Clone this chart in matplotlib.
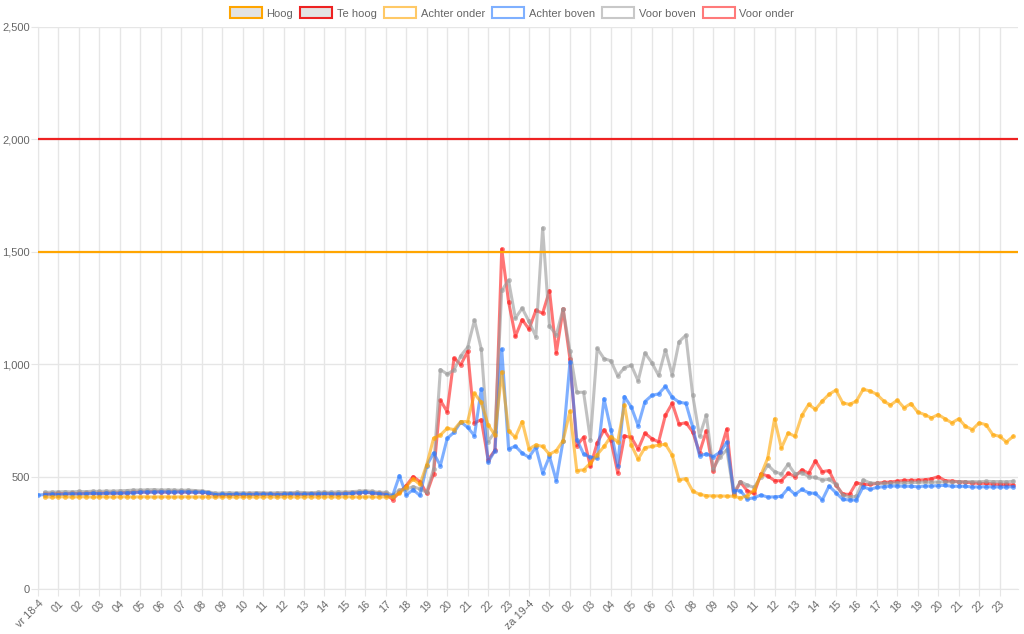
import numpy as np
import pandas as pd
import matplotlib
matplotlib.use('Agg')
import matplotlib.pyplot as plt
import matplotlib.dates as mdates
from matplotlib.patches import Patch
from matplotlib.ticker import FuncFormatter, MultipleLocator

plt.rcParams['font.family'] = ['Liberation Sans', 'DejaVu Sans']

# meetmomenten, elke 20 minuten
times = pd.date_range('2025-04-18 00:00', periods=144, freq='20min')

# grenswaarden
hoog = 1500
te_hoog = 2000

achter_boven = [
    418, 420, 421, 420, 422, 423, 422, 424, 425, 424, 425, 426, 425, 427, 428,
    430, 431, 430, 432, 431, 430, 432, 431, 430, 431, 429,
    420, 421, 420, 422, 421, 420, 422, 421, 422, 420, 421, 423, 422, 421, 423,
    422, 424, 423, 422, 424, 425, 428, 430, 427, 424,
    420, 415, 504, 418, 442, 416, 549, 605, 549, 670,
    697, 743, 719, 682, 890, 564, 616, 1067, 623, 635,
    604, 586, 631, 515, 590, 482, 660, 1010, 665, 601,
    586, 582, 846, 709, 549, 856, 809, 727, 834, 861,
    868, 901, 853, 831, 826, 720, 593, 601, 589, 608,
    653, 438, 437, 400, 406, 418, 409, 410, 412, 448,
    421, 443, 428, 425, 396, 458, 428, 399, 396, 396,
    455, 443, 452, 455, 458, 458, 457, 457, 455, 458,
    458, 460, 461, 457, 457, 457, 454, 454, 455, 454,
    454, 454, 455,
]

voor_onder = [
    None,
    424, 423, 425, 424, 426, 425, 426, 427, 426, 428, 427, 428, 429, 430,
    432, 431, 433, 432, 431, 433, 432, 431, 432, 430, 428,
    418, 419, 420, 421, 420, 422, 421, 423, 422, 421, 422, 424, 423, 422, 424,
    423, 425, 424, 423, 426, 427, 429, 431, 428, 425,
    422, 398, 430, 460, 500, 478, 425, 512, 839, 789,
    1027, 998, 1057, 739, 753, 575, 617, 1512, 1278, 1124,
    1198, 1156, 1239, 1227, 1327, 1050, 1245, 1024, 638, 675,
    545, 650, 708, 662, 518, 681, 674, 622, 693, 669,
    654, 773, 826, 733, 740, 699, 607, 703, 525, 610,
    711, 421, 475, 437, 425, 512, 503, 482, 482, 515,
    500, 530, 515, 570, 522, 527, 463, 422, 421, 473,
    465, 465, 470, 474, 476, 480, 483, 483, 484, 486,
    490, 500, 482, 480, 477, 475, 472, 470, 470, 467,
    465, 465, 463,
]

voor_boven = [
    None,
    430, 431, 432, 433, 432, 434, 433, 435, 434, 436, 435, 437, 438, 440,
    440, 441, 442, 440, 441, 440, 439, 440, 438, 436, 432,
    426, 427, 428, 427, 428, 427, 429, 428, 427, 428, 429, 428, 430, 429, 428,
    430, 431, 430, 432, 431, 433, 435, 437, 434, 430,
    430, 418, 440, 445, 455, 445, 430, 534, 976, 956,
    974, 1038, 1075, 1196, 1067, 655, 700, 1328, 1373, 1205,
    1249, 1190, 1123, 1606, 1169, 1131, 1246, 1057, 875, 875,
    665, 1070, 1025, 1015, 948, 985, 995, 926, 1050, 1007,
    950, 1064, 951, 1100, 1129, 862, 680, 773, 535, 587,
    620, 425, 478, 462, 452, 500, 552, 522, 512, 555,
    512, 518, 500, 496, 485, 488, 465, 418, 410, 412,
    485, 472, 470, 470, 471, 472, 473, 474, 474, 476,
    475, 476, 477, 476, 478, 477, 478, 477, 479, 478,
    478, 477, 479,
]

achter_onder = [
    None,
    410, 409, 410, 410, 409, 410, 410, 409, 410, 410, 409, 410, 410, 409,
    410, 410, 409, 410, 410, 409, 410, 410, 409, 410, 410,
    409, 410, 410, 409, 410, 410, 409, 410, 410, 409, 410, 410, 409, 410, 410,
    409, 410, 410, 409, 410, 410, 409, 410, 410, 409,
    410, 410, 425, 455, 490, 465, 553, 670, 685, 715,
    709, 745, 745, 870, 830, 730, 685, 965, 703, 675,
    745, 623, 641, 634, 599, 616, 660, 791, 527, 530,
    560, 598, 634, 678, 654, 818, 641, 577, 629, 634,
    640, 644, 595, 485, 491, 436, 421, 415, 414, 414,
    413, 413, 405, 415, 440, 507, 582, 757, 627, 694,
    679, 772, 821, 799, 836, 866, 885, 828, 821, 836,
    888, 881, 866, 836, 818, 840, 806, 825, 787, 776,
    761, 776, 757, 739, 757, 724, 709, 739, 731, 687,
    679, 654, 679,
]

for s in (achter_boven, voor_onder, voor_boven, achter_onder):
    assert len(s) == len(times), len(s)

grid_c = '#e6e6e6'
txt_c = '#666666'
c_orange = '#ffa500'
c_red = '#ee2222'

fig = plt.figure(figsize=(10.24, 6.34), dpi=100)
ax = fig.add_axes([38 / 1024, 45 / 634, 980 / 1024, 562 / 634])

# reeksen: eerste in de legenda ligt bovenop
reeksen = [
    ('Achter onder', achter_onder, '#ffa500', 6),
    ('Achter boven', achter_boven, '#2a7bff', 5),
    ('Voor boven', voor_boven, '#999999', 4),
    ('Voor onder', voor_onder, '#ff1a1a', 3),
]
for naam, vals, kleur, z in reeksen:
    y = np.array([np.nan if v is None else v for v in vals], dtype=float)
    ax.plot(times, y, color=kleur, alpha=0.6, lw=2.2, marker='o', ms=3.5,
            mew=0, zorder=z)

ax.axhline(hoog, color=c_orange, lw=1.6, zorder=8)
ax.axhline(te_hoog, color=c_red, lw=1.6, zorder=8)

ax.set_ylim(0, 2500)
ax.set_xlim(times[0], times[0] + pd.Timedelta(hours=47.9))
ax.yaxis.set_major_locator(MultipleLocator(500))
ax.yaxis.set_major_formatter(FuncFormatter(lambda v, p: f'{int(v):,}'))

dagen = {4: 'vr', 5: 'za', 6: 'zo', 0: 'ma', 1: 'di', 2: 'wo', 3: 'do'}


def x_label(v, p):
    d = mdates.num2date(v)
    if d.hour == 0:
        return f'{dagen[d.weekday()]} {d.day}-{d.month}'
    return f'{d.hour:02d}'


ax.xaxis.set_major_locator(mdates.HourLocator())
ax.xaxis.set_major_formatter(FuncFormatter(x_label))
ax.grid(True, color=grid_c, lw=1, zorder=0)
ax.set_axisbelow(True)
for sp in ax.spines.values():
    sp.set_visible(False)
ax.spines['left'].set_visible(True)
ax.spines['bottom'].set_visible(True)
ax.spines['left'].set_color(grid_c)
ax.spines['bottom'].set_color(grid_c)
ax.tick_params(axis='both', length=5, color=grid_c, labelcolor=txt_c, labelsize=8)
ax.tick_params(axis='y', pad=1)
ax.tick_params(axis='x', pad=2, labelsize=7.8)
plt.setp(ax.get_xticklabels(), rotation=45, ha='right', rotation_mode='anchor')

handles = [
    Patch(facecolor='#e3e3e3', edgecolor=c_orange, lw=1.5, label='Hoog'),
    Patch(facecolor='#e3e3e3', edgecolor=c_red, lw=1.5, label='Te hoog'),
    Patch(facecolor='white', edgecolor='#ffc966', lw=1.5, label='Achter onder'),
    Patch(facecolor='white', edgecolor='#7fb0ff', lw=1.5, label='Achter boven'),
    Patch(facecolor='white', edgecolor='#c8c8c8', lw=1.5, label='Voor boven'),
    Patch(facecolor='white', edgecolor='#ff7a7a', lw=1.5, label='Voor onder'),
]
fig.legend(handles=handles, loc='center', bbox_to_anchor=(0.5, 1 - 13 / 634), ncol=6,
           frameon=False, fontsize=8, labelcolor=txt_c, handlelength=2.9,
           handleheight=1.1, handletextpad=0.4, columnspacing=0.65)

fig.savefig('out.png', dpi=100)
